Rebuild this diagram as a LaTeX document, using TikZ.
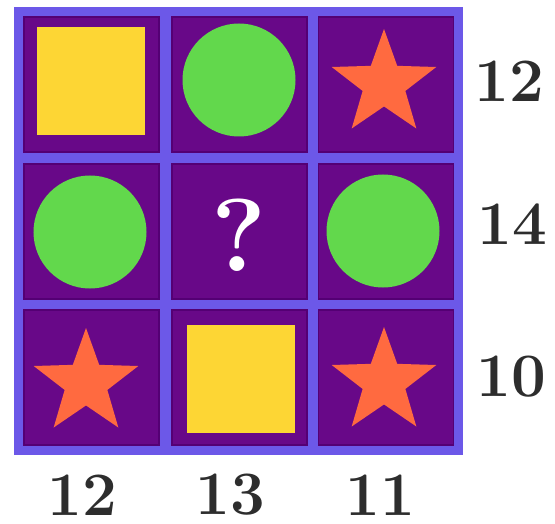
\documentclass[tikz,border=0pt]{standalone}
\usepackage{amsmath, amssymb}
\usepackage{tikz}
\usetikzlibrary{shapes, positioning}

\definecolor{gridblue}{RGB}{108,88,232}
\definecolor{cellpurple}{RGB}{104,8,136}
\definecolor{celledge}{RGB}{84,0,116}
\definecolor{sqyellow}{RGB}{253,214,52}
\definecolor{dotgreen}{RGB}{98,216,76}
\definecolor{starorange}{RGB}{255,106,64}
\definecolor{numgray}{RGB}{45,45,45}

\begin{document}
\begin{tikzpicture}[x=1bp, y=-1bp,
        cell/.style={draw=celledge, line width=1.2bp, fill=cellpurple, minimum size=135bp, inner sep=0pt},
        sq/.style={fill=sqyellow, minimum size=108bp, inner sep=0pt},
        dot/.style={circle, fill=dotgreen, minimum size=113bp, inner sep=0pt},
        st/.style={star, star points=5, star point ratio=2.45, fill=starorange, minimum size=110bp, inner sep=0pt},
        num/.style={text=numgray, inner sep=0pt, font=\fontsize{62}{62}\selectfont\bfseries}]
        \useasboundingbox (0,0) rectangle (555,524);
        \fill[gridblue] (14,7) rectangle (463,455);
        \foreach \r/\y in {1/84.5, 2/231.5, 3/377.5}
            \foreach \c/\x in {1/91.5, 2/239.5, 3/386}
                \node[cell] (c\r\c) at (\x,\y) {};
        % shapes
        \node[sq] (sq1) at (91,81) {};
        \node[dot] (dot1) at (239,80) {};
        \node[st] (st1) at (384,84) {};
        \node[dot] (dot2) at (90,232) {};
        \node[text=white, inner sep=0pt, font=\fontsize{104}{104}\selectfont\bfseries] (qm) at (239,235) {?};
        \node[dot] (dot3) at (383,231) {};
        \node[st] (st2) at (86,383) {};
        \node[sq] (sq2) at (241,379) {};
        \node[st] (st3) at (384,382) {};
        % sums
        \node[num] (r1) at (509,81) {12};
        \node[num] (r2) at (512,224) {14};
        \node[num] (r3) at (511,377) {10};
        \node[num] (k1) at (82,495) {12};
        \node[num] (k2) at (230,495) {13};
        \node[num] (k3) at (380,495) {11};
    \end{tikzpicture}
\end{document}
